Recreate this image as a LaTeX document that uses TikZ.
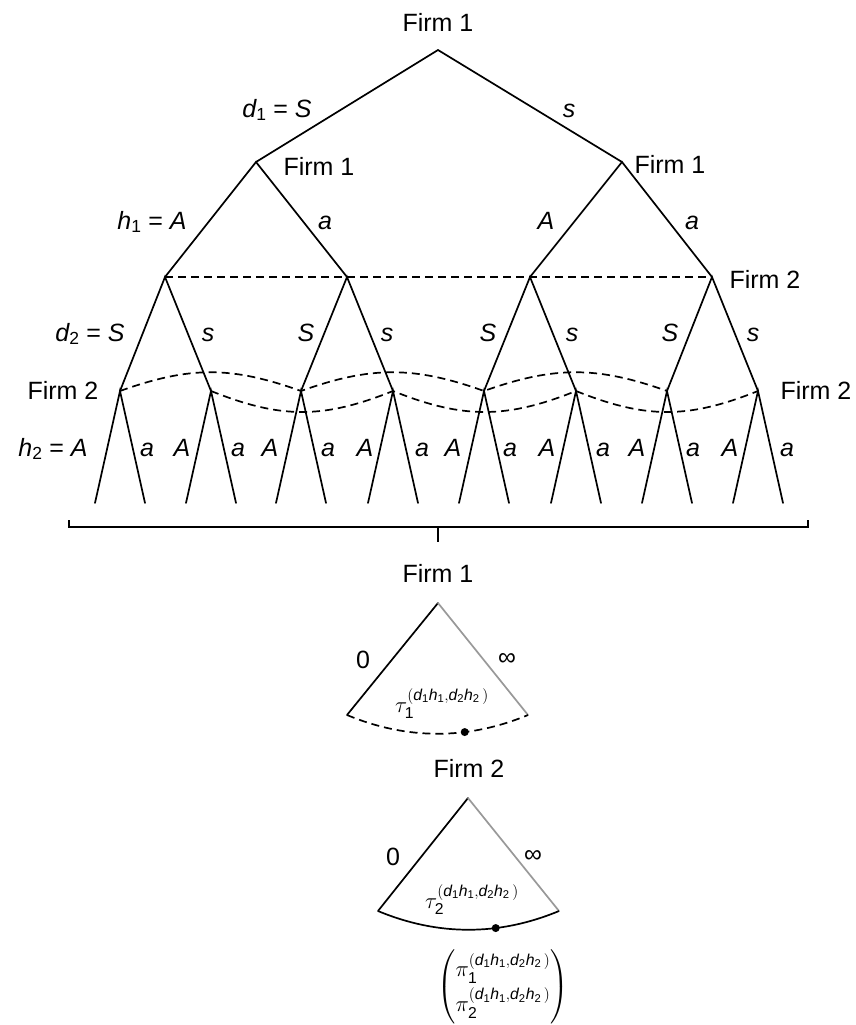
\RequirePackage{fix-cm}
\documentclass[tikz,border=0pt]{standalone}
\usepackage{amsmath}
\usepackage{fontspec}
\setmainfont{Liberation Sans}
% sans digits and equals sign inside formulas
\newcommand{\sd}[1]{\text{#1}}
\newcommand{\eqs}{\mathrel{\text{=}}}
% history index written above tau and pi
\newcommand{\histsup}{^{(\mathit{d}_{\sd{1}}\mathit{h}_{\sd{1}},\mathit{d}_{\sd{2}}\mathit{h}_{\sd{2}}\,)}}
\begin{document}
\begin{tikzpicture}[x=1pt,y=-1pt,
  branch/.style={line width=1.7pt, line cap=round, line join=miter},
  infoset/.style={line width=1.7pt, dash pattern=on 8pt off 5pt},
  lbl/.style={anchor=base, inner sep=0pt, font=\fontsize{25}{30}\selectfont},
  slbl/.style={anchor=base, inner sep=0pt, font=\fontsize{22.5}{27}\selectfont},
  mlbl/.style={anchor=center, inner sep=0pt, font=\fontsize{22.5}{27}\selectfont},
  dotnode/.style={circle, fill=black, inner sep=0pt, minimum size=8pt}]
\useasboundingbox (0,0) rectangle (855,1025);

% ---------- decision nodes of the tree ----------
\coordinate (r) at (438,50);
\coordinate (p1) at (256,162);
\coordinate (p2) at (622,162);
\foreach \n/\x in {1/165,2/347,3/530,4/712}
  \coordinate (q\n) at (\x,277);
\foreach \n/\x in {1/120,2/211,3/301,4/393,5/484,6/576,7/667,8/758} {
  \coordinate (f\n) at (\x,391);
  \coordinate (la\n) at (\x-25,503);
  \coordinate (lb\n) at (\x+25,503);
}

% ---------- branches ----------
\draw[branch] (p1) -- (r) -- (p2);
\draw[branch] (q1) -- (p1) -- (q2);
\draw[branch] (q3) -- (p2) -- (q4);
\foreach \q/\a/\b in {1/1/2,2/3/4,3/5/6,4/7/8}
  \draw[branch] (f\a) -- (q\q) -- (f\b);
\foreach \n in {1,...,8}
  \draw[branch] (la\n) -- (f\n) -- (lb\n);

% ---------- information sets ----------
\draw[infoset] (q1) -- (q4);
\draw[infoset] (f1) .. controls +(70,-25) and +(-70,-25) .. (f3)
                    .. controls +(70,-25) and +(-70,-25) .. (f5)
                    .. controls +(70,-25) and +(-70,-25) .. (f7);
\draw[infoset] (f2) .. controls +(70,28) and +(-70,28) .. (f4)
                    .. controls +(70,28) and +(-70,28) .. (f6)
                    .. controls +(70,28) and +(-70,28) .. (f8);

% ---------- brace gathering all terminal histories ----------
\coordinate (bl) at (69,520);
\coordinate (br) at (808,520);
\coordinate (bm) at (438,527);
\coordinate (bc) at (438,542);
\draw[line width=1.7pt] (bl) |- (bm) -| (br);
\draw[line width=1.7pt] (bm) -- (bc);

% ---------- tree labels ----------
\node[lbl] (firmA) at (438,32) {Firm 1};
\node[lbl] (dS1) at (277,117) {$\mathit{d}_{\sd{1}} \eqs \mathit{S}$};
\node[lbl] (ds1) at (569,117) {\itshape s};
\node[lbl] (firmB) at (319,175) {Firm 1};
\node[lbl] (firmC) at (670,173) {Firm 1};
\node[lbl] (hA1) at (152,229) {$\mathit{h}_{\sd{1}} \eqs \mathit{A}$};
\node[lbl] (ha1) at (325,229) {\itshape a};
\node[lbl] (hA2) at (546,229) {\itshape A};
\node[lbl] (ha2) at (692,229) {\itshape a};
\node[lbl] (firmD) at (765,288) {Firm 2};
\node[lbl] (dS2) at (90,341) {$\mathit{d}_{\sd{2}} \eqs \mathit{S}$};
\foreach \x/\t [count=\i] in {208/s,306/S,387/s,488/S,572/s,670/S,753/s}
  \node[lbl] (dl\i) at (\x,341) {\itshape \t};
\node[lbl] (firmE) at (63,399) {Firm 2};
\node[lbl] (firmF) at (816,399) {Firm 2};
\node[lbl] (hA3) at (53,456) {$\mathit{h}_{\sd{2}} \eqs \mathit{A}$};
\foreach \x/\t [count=\i] in {147/a,182/A,238/a,270/A,328/a,365/A,422/a,453/A,
                              510/a,547/A,603/a,637/A,693/a,730/A,787/a}
  \node[lbl] (hl\i) at (\x,456) {\itshape \t};

% ---------- Firm 1 chooses its stopping time ----------
\node[lbl] (firmG) at (438,582) {Firm 1};
\coordinate (t1) at (438,603);
\coordinate (t1l) at (347,715);
\coordinate (t1r) at (528,715);
\draw[branch] (t1) -- (t1l);
\draw[branch, black!40] (t1) -- (t1r);
\draw[infoset] (t1l) .. controls +(60,25) and +(-60,25) .. (t1r)
  node[pos=0.65, dotnode] (dot1) {};
\node[lbl] (zero1) at (363,668) {0};
\node[lbl] (inf1) at (507,665) {∞};
\node[slbl] (tau1) at (442,712) {$\tau_{\sd{1}}\histsup$};

% ---------- Firm 2 chooses its stopping time ----------
\node[lbl] (firmH) at (469,777) {Firm 2};
\coordinate (t2) at (468,798);
\coordinate (t2l) at (378,911);
\coordinate (t2r) at (559,911);
\draw[branch] (t2) -- (t2l);
\draw[branch, black!40] (t2) -- (t2r);
\draw[line width=1.7pt] (t2l) .. controls +(60,25) and +(-60,25) .. (t2r)
  node[pos=0.65, dotnode] (dot2) {};
\node[lbl] (zero2) at (393,865) {0};
\node[lbl] (inf2) at (533,862) {∞};
\node[slbl] (tau2) at (472,908) {$\tau_{\sd{2}}\histsup$};

% ---------- payoff vector ----------
\node[mlbl] (pay) at (503,987)
  {$\renewcommand{\arraystretch}{1.15}\left(\begin{array}{@{}c@{}}
     \pi_{\sd{1}}\histsup \\[2pt] \pi_{\sd{2}}\histsup \end{array}\right)$};
\end{tikzpicture}
\end{document}
